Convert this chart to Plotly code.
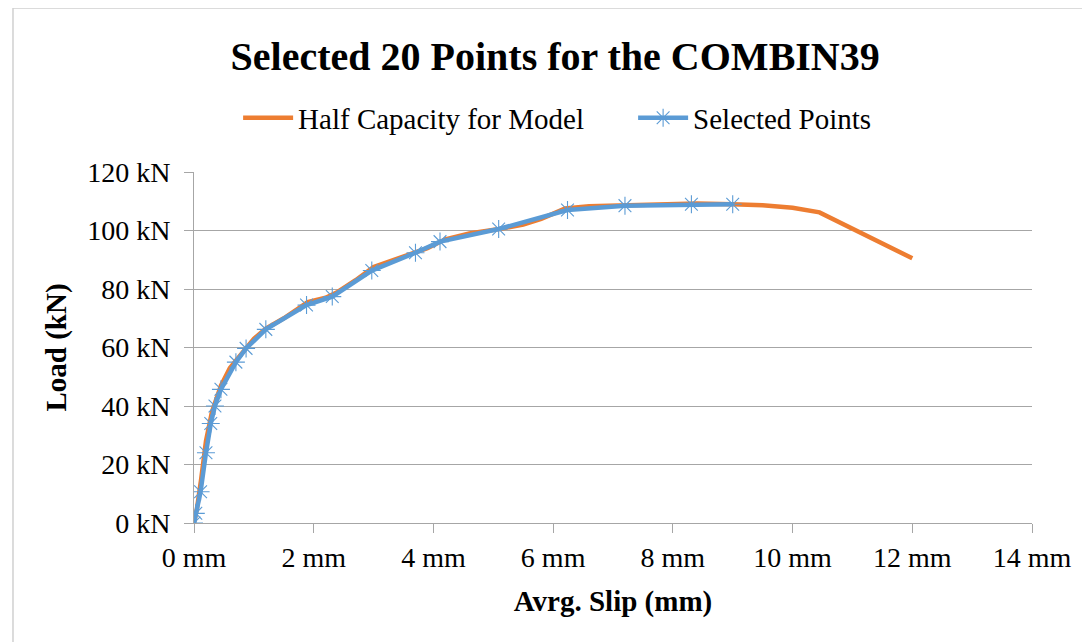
import plotly.graph_objects as go

# Half capacity curve (mm, kN)
half_slip = [0, 0.05, 0.12, 0.2, 0.3, 0.45, 0.6, 0.8, 1.0, 1.2, 1.5, 1.9, 2.2, 2.4, 2.7, 3.0,
             3.4, 3.9, 4.2, 4.6, 5.1, 5.5, 5.8, 6.2, 6.6, 7.2, 7.8, 8.4, 9.0, 9.5, 10.0, 10.45, 12.0]
half_load = [0, 5, 15, 28, 38, 47, 53, 58, 63, 66.5, 70, 75.5, 77, 79, 83, 87.5,
             90.5, 94, 97, 99, 100.5, 102, 104, 107.5, 108.3, 108.6, 109.2, 109.2, 109.0, 108.6, 107.8, 106.2, 90.5]

# Selected 20 points
sel_slip = [0, 0.03, 0.11, 0.2, 0.28, 0.35, 0.45, 0.70, 0.87, 1.2, 1.88, 2.31, 2.97, 3.70,
            4.11, 5.09, 6.24, 7.20, 8.31, 9.0]
sel_load = [0, 3.3, 10.7, 24, 34, 40, 45.7, 55, 59.7, 66.2, 74.5, 77.4, 86.3, 92.4,
            96.2, 100.5, 107.0, 108.5, 109.0, 109.0]

x_ticks = [0, 2, 4, 6, 8, 10, 12, 14]
x_tick_text = ["0 mm", "2 mm", "4 mm", "6 mm", "8 mm", "10 mm", "12 mm", "14 mm"]
y_ticks = [0, 20, 40, 60, 80, 100, 120]
y_tick_text = ["0 kN", "20 kN", "40 kN", "60 kN", "80 kN", "100 kN", "120 kN"]

FONT = "Liberation Serif, Times New Roman, serif"

fig = go.Figure()
fig.add_trace(go.Scatter(x=half_slip, y=half_load, mode="lines", name="Half Capacity for Model",
                         line=dict(color="#ED7D31", width=4.5)))
fig.add_trace(go.Scatter(x=sel_slip, y=sel_load, mode="lines+markers", name="Selected Points",
                         line=dict(color="#5B9BD5", width=4.5),
                         marker=dict(symbol="asterisk-open", size=15, color="#5B9BD5",
                                     line=dict(color="#5B9BD5", width=1.1))))

fig.update_layout(
    width=1090, height=642,
    paper_bgcolor="white", plot_bgcolor="white",
    margin=dict(l=186, r=66, t=164, b=127),
    font=dict(family=FONT, color="black"),
    title=dict(text="<b>Selected 20 Points for the COMBIN39</b>", x=0.502, xanchor="center",
               y=0.926, yanchor="middle", font=dict(size=40, family=FONT, color="black")),
    legend=dict(orientation="h", x=0.524, xanchor="center", y=1.154, yanchor="middle",
                font=dict(size=29, family=FONT, color="black"), itemwidth=50,
                entrywidth=330, entrywidthmode="pixels",
                bgcolor="rgba(0,0,0,0)"),
    showlegend=True,
)
fig.update_xaxes(range=[0, 14], tickvals=x_ticks, ticktext=x_tick_text, showgrid=False,
                 showline=True, linecolor="#A6A6A6", linewidth=1, ticks="outside", ticklen=9,
                 tickcolor="#A6A6A6", tickfont=dict(size=28, family=FONT, color="black"),
                 title=dict(text="<b>Avrg. Slip (mm)</b>", font=dict(size=29, family=FONT, color="black"),
                            standoff=19), zeroline=False)
fig.update_yaxes(range=[0, 120], tickvals=y_ticks, ticktext=y_tick_text, showgrid=True,
                 gridcolor="#A6A6A6", gridwidth=1, showline=True, linecolor="#A6A6A6", linewidth=1,
                 ticks="outside", ticklen=9, tickcolor="#A6A6A6", ticklabelstandoff=8,
                 tickfont=dict(size=28, family=FONT, color="black"),
                 title=dict(text="<b>Load (kN)</b>", font=dict(size=29, family=FONT, color="black"),
                            standoff=12), zeroline=False)

fig.add_shape(type="rect", xref="paper", yref="paper", x0=-0.216, x1=1.08, y0=-0.40, y1=1.467,
              line=dict(color="#D0D0D0", width=1.5), fillcolor="rgba(0,0,0,0)", layer="below")

fig.write_html("out.html")
